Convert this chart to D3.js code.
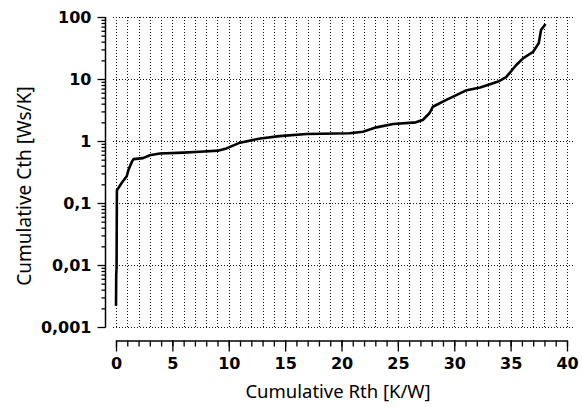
<!DOCTYPE html>
<html>
<head>
<meta charset="utf-8">
<script src="https://cdn.jsdelivr.net/npm/d3@7"></script>
<style>
  html, body { margin: 0; padding: 0; background: #fff; }
  svg { display: block; }
</style>
</head>
<body>
<div id="chart"></div>
<script>
// cumulative structure function
const rthValues = [0, 0.02, 0.05, 0.08, 0.5, 0.95, 1.1, 1.4, 1.55, 2.4, 3.0, 3.9, 6.0, 7.4, 9.1, 9.8,
  11.0, 12.8, 14.5, 16.9, 20.7, 21.9, 23.1, 24.6, 26.6, 27.2, 27.8, 28.1, 29.3, 31.1, 32.3,
  33.9, 34.6, 35.5, 36.1, 37.0, 37.5, 37.7, 38.1];
const cthValues = [0.0022, 0.007, 0.009, 0.16, 0.21, 0.27, 0.34, 0.46, 0.51, 0.53, 0.59, 0.63,
  0.65, 0.67, 0.70, 0.76, 0.94, 1.1, 1.2, 1.3, 1.33, 1.41, 1.66, 1.88, 2.0, 2.18, 2.8, 3.57,
  4.6, 6.6, 7.3, 9.1, 10.7, 16.8, 21.5, 27.5, 38, 62, 77];

const xTicks = [0, 5, 10, 15, 20, 25, 30, 35, 40];
const yTicks = [0.001, 0.01, 0.1, 1, 10, 100];
const yTickLabels = ["0,001", "0,01", "0,1", "1", "10", "100"];

const width = 582, height = 407;

const svg = d3.select("#chart").append("svg")
    .attr("width", width)
    .attr("height", height);

const x = d3.scaleLinear().domain([0, 40]).range([116, 567]);
const y = d3.scaleLog().domain([0.001, 100]).range([327, 17]);

const gridLeft = 113, gridRight = 573, gridTop = 17, gridBottom = 328;

// dotted grid
const grid = svg.append("g").attr("stroke", "#111").attr("stroke-width", 1);
grid.selectAll("line.v")
    .data(d3.range(0, 41))
    .join("line")
    .attr("class", "v")
    .attr("x1", d => Math.round(x(d)) + 0.5)
    .attr("x2", d => Math.round(x(d)) + 0.5)
    .attr("y1", gridTop)
    .attr("y2", gridBottom)
    .attr("stroke-dasharray", "1,2");
grid.selectAll("line.h")
    .data(yTicks)
    .join("line")
    .attr("class", "h")
    .attr("x1", gridLeft)
    .attr("x2", gridRight)
    .attr("y1", d => Math.round(y(d)) + 0.5)
    .attr("y2", d => Math.round(y(d)) + 0.5)
    .attr("stroke-dasharray", "1,2");

// y axis (detached, left of plot)
let yMinor = [];
yTicks.slice(0, -1).forEach(t => {
    for (let k = 2; k <= 9; k++) yMinor.push(t * k);
});

const yAxisG = svg.append("g").attr("transform", "translate(105.5,0)");
yAxisG.append("g")
    .call(d3.axisLeft(y).tickValues(yMinor).tickFormat("").tickSize(4).tickSizeOuter(0))
    .call(g => g.select(".domain").remove());
yAxisG.append("g")
    .call(d3.axisLeft(y).tickValues(yTicks)
        .tickFormat((d, i) => yTickLabels[i]).tickSize(8).tickSizeOuter(0).tickPadding(6))
    .call(g => g.select(".domain").attr("d", `M0,${y(100)}V${y(0.001) + 0.5}`));

// x axis (detached, below plot)
const xAxisG = svg.append("g").attr("transform", "translate(0,340.5)");
xAxisG.append("g")
    .call(d3.axisBottom(x).tickValues(d3.range(0, 41)).tickFormat("").tickSize(6).tickSizeOuter(0))
    .call(g => g.select(".domain").remove());
xAxisG.append("g")
    .call(d3.axisBottom(x).tickValues(xTicks).tickSize(11).tickSizeOuter(0).tickPadding(6));

svg.selectAll(".tick line").attr("stroke", "#000").attr("stroke-width", 1.3);
svg.selectAll(".domain").attr("stroke", "#000").attr("stroke-width", 1.5);
svg.selectAll(".tick text")
    .attr("fill", "#000")
    .style("font-family", "'DejaVu Sans', sans-serif")
    .style("font-weight", "bold")
    .style("font-size", "16px");

// curve
const curve = rthValues.map((r, i) => ({ r: r, c: cthValues[i] }));
const line = d3.line()
    .x(d => x(d.r))
    .y(d => y(d.c))
    .curve(d3.curveLinear);

svg.append("path")
    .datum(curve)
    .attr("d", line)
    .attr("fill", "none")
    .attr("stroke", "#000")
    .attr("stroke-width", 2.6)
    .attr("stroke-linejoin", "round");

// axis titles
svg.append("text")
    .attr("x", 338)
    .attr("y", 398)
    .attr("text-anchor", "middle")
    .style("font-family", "'Noto Sans', sans-serif")
    .style("font-size", "18.5px")
    .text("Cumulative Rth [K/W]");

svg.append("text")
    .attr("transform", "translate(31,186) rotate(-90)")
    .attr("text-anchor", "middle")
    .style("font-family", "'Noto Sans', sans-serif")
    .style("font-size", "19px")
    .text("Cumulative Cth [Ws/K]");
</script>
</body>
</html>
